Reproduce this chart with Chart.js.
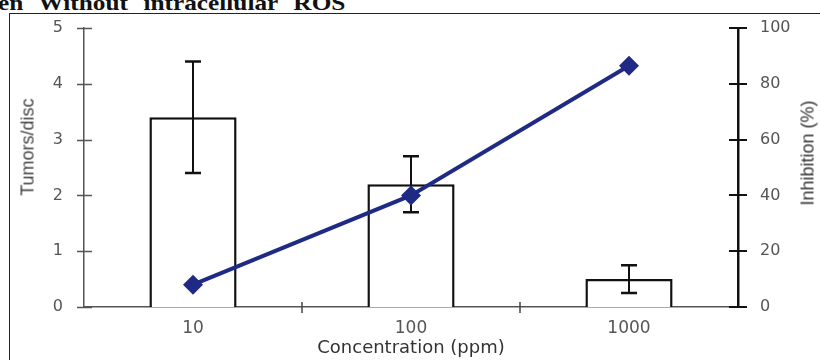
<!DOCTYPE html>
<html>
<head>
<meta charset="utf-8">
<script src="https://cdn.jsdelivr.net/npm/chart.js@4/dist/chart.umd.min.js"></script>
<style>
  html, body { margin: 0; padding: 0; background: #fff; }
  #wrap { position: relative; width: 820px; height: 360px; overflow: hidden; background: #fff; }
  #frame { position: absolute; left: 9px; top: 13px; right: -5px; bottom: -5px; border-left: 1.5px solid #222; border-top: 1.5px solid #222; }
  #cap { position: absolute; left: -2px; top: -10px; font: bold 22px "Liberation Serif", serif; color: #111; white-space: nowrap; word-spacing: 8px; transform: scaleX(1.15); transform-origin: left top; }
  canvas { position: absolute; left: 0; top: 0; }
  .ytitle { position: absolute; font: 18px "Liberation Sans", Arial, sans-serif; white-space: nowrap; transform: translate(-50%, -50%) rotate(-90deg); }
</style>
</head>
<body>
<div id="wrap">
  <div id="cap">en Without intracellular ROS</div>
  <div id="frame"></div>
  <canvas id="c" width="820" height="360"></canvas>
  <div class="ytitle" style="left:28px; top:147px; color:#444;">Tumors/disc</div>
  <div class="ytitle" style="left:808px; top:153px; color:#333;">Inhibition (%)</div>
</div>
<script>
const categories = ['10', '100', '1000'];
const tumorsPerDisc = [3.4, 2.2, 0.5];
const tumorsError = [1.0, 0.5, 0.25];
const inhibitionPct = [8, 40, 86.5];
const xTitle = 'Concentration (ppm)';

const errorBars = {
  id: 'errorBars',
  afterDatasetDraw(chart, args) {
    if (args.index !== 0) return;
    const { ctx } = chart;
    const meta = chart.getDatasetMeta(0);
    const ys = chart.scales.y;
    ctx.save();
    ctx.strokeStyle = '#111';
    meta.data.forEach((bar, i) => {
      const v = tumorsPerDisc[i], e = tumorsError[i];
      const top = ys.getPixelForValue(v + e);
      const bot = ys.getPixelForValue(v - e);
      const cx = bar.x;
      ctx.lineWidth = 2;
      ctx.beginPath();
      ctx.moveTo(cx, top); ctx.lineTo(cx, bot);
      ctx.stroke();
      ctx.lineWidth = 2.5;
      ctx.beginPath();
      ctx.moveTo(cx - 8, top); ctx.lineTo(cx + 8, top);
      ctx.moveTo(cx - 8, bot); ctx.lineTo(cx + 8, bot);
      ctx.stroke();
    });
    ctx.restore();
  }
};

const crossTicks = {
  id: 'crossTicks',
  afterDraw(chart) {
    const { ctx } = chart;
    const { x, y, y2 } = chart.scales;
    ctx.save();
    ctx.strokeStyle = '#555'; ctx.lineWidth = 1.5;
    ctx.beginPath();
    y.ticks.forEach((t, i) => {
      const py = Math.round(y.getPixelForTick(i)) + 0.5;
      ctx.moveTo(y.right - 7, py); ctx.lineTo(y.right + 8, py);
    });
    ctx.stroke();
    ctx.strokeStyle = '#111'; ctx.lineWidth = 2;
    ctx.beginPath();
    y2.ticks.forEach((t, i) => {
      const py = Math.round(y2.getPixelForTick(i));
      ctx.moveTo(y2.left - 9, py); ctx.lineTo(y2.left + 9, py);
    });
    ctx.stroke();
    ctx.strokeStyle = '#444'; ctx.lineWidth = 1.5;
    ctx.beginPath();
    for (let i = 0; i < categories.length - 1; i++) {
      const px = (x.getPixelForValue(i) + x.getPixelForValue(i + 1)) / 2;
      ctx.moveTo(px, x.top - 5); ctx.lineTo(px, x.top + 6);
    }
    ctx.stroke();
    ctx.restore();
  }
};

new Chart(document.getElementById('c'), {
  data: {
    labels: categories,
    datasets: [
      {
        type: 'bar',
        label: 'Tumors/disc',
        data: tumorsPerDisc,
        yAxisID: 'y',
        backgroundColor: '#ffffff',
        borderColor: '#111',
        borderWidth: 2.5,
        barPercentage: 0.4,
        categoryPercentage: 1.0,
        order: 2
      },
      {
        type: 'line',
        label: 'Inhibition (%)',
        data: inhibitionPct,
        yAxisID: 'y2',
        borderColor: '#1f2a84',
        backgroundColor: '#1f2a84',
        borderWidth: 4,
        pointStyle: 'rectRot',
        pointRadius: 10,
        pointBorderWidth: 0,
        tension: 0,
        order: 1
      }
    ]
  },
  options: {
    responsive: false,
    animation: false,
    layout: { padding: { top: 28, left: 0, right: 0, bottom: 0 } },
    plugins: { legend: { display: false }, tooltip: { enabled: false } },
    scales: {
      x: {
        offset: true,
        grid: { display: false, drawTicks: false },
        border: { display: true, color: '#555', width: 1.5 },
        ticks: { padding: 11, color: '#555', font: { family: 'DejaVu Sans', size: 17 } },
        title: { display: true, text: xTitle, color: '#333', font: { family: 'DejaVu Sans', size: 18 }, padding: { top: 0, bottom: 1 } },
        afterFit(s) { s.height = 53; }
      },
      y: {
        position: 'left',
        min: 0, max: 5,
        grid: { display: false, drawTicks: false },
        border: { display: true, color: '#555', width: 1.5 },
        ticks: { stepSize: 1, padding: 21, color: '#555', font: { family: 'DejaVu Sans', size: 16 } },
        afterFit(s) { s.width = 84; s.paddingTop = 10; s.paddingBottom = 10; }
      },
      y2: {
        position: 'right',
        min: 0, max: 100,
        grid: { display: false, drawTicks: false },
        border: { display: true, color: '#111', width: 2.5 },
        ticks: { stepSize: 20, padding: 22, color: '#555', font: { family: 'DejaVu Sans', size: 16 } },
        afterFit(s) { s.width = 82; s.paddingTop = 10; s.paddingBottom = 10; }
      }
    }
  },
  plugins: [errorBars, crossTicks]
});
</script>
</body>
</html>
